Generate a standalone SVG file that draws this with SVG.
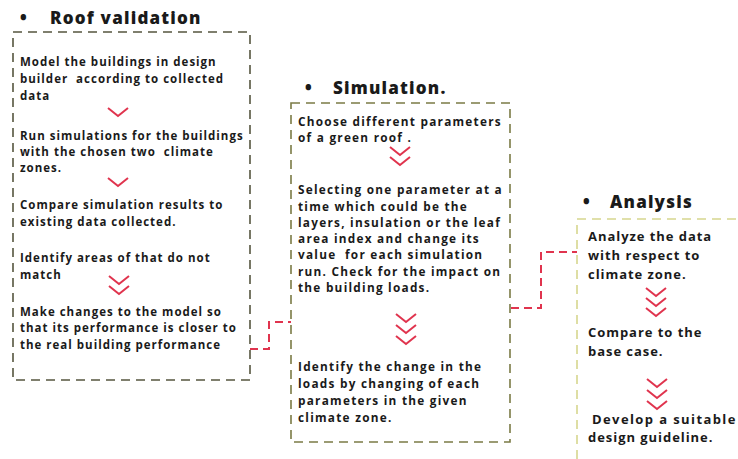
<svg xmlns="http://www.w3.org/2000/svg" width="738" height="459" viewBox="0 0 738 459">
<style>
  text { white-space: pre; }
  .t { font-family: "Open Sans", "Liberation Sans", sans-serif; font-weight: 700; font-size: 11.5px; letter-spacing: 1px; fill: #1a1a1a; }
  .t2 { font-family: "Open Sans", "Liberation Sans", sans-serif; font-weight: 700; font-size: 11.8px; letter-spacing: 1.25px; fill: #1a1a1a; }
  .t3 { font-family: "Open Sans", "Liberation Sans", sans-serif; font-weight: 700; font-size: 13px; letter-spacing: 0.95px; fill: #1a1a1a; }
  .title { font-family: "Open Sans", "Liberation Sans", sans-serif; font-weight: 800; font-size: 17px; letter-spacing: 1.2px; fill: #1a1a1a; }
  .box { fill: none; stroke-width: 1.6; stroke-dasharray: 9 6; }
  .conn { fill: none; stroke: #e0344e; stroke-width: 2; stroke-dasharray: 8 5; }
  .chev { fill: none; stroke: #e0344e; stroke-width: 2; }
</style>
<defs>
  <path id="chev" class="chev" d="M-10,-4 L0,4 L10,-4"/>
</defs>
<rect width="738" height="459" fill="#ffffff"/>

<g id="roof-validation">
  <text class="title" x="20" y="24">•</text>
  <text class="title" x="50" y="24">Roof validation</text>
  <rect class="box" x="13" y="32" width="237" height="348" stroke="#55553f"/>
  <text class="t" x="20" y="66">Model the buildings in design</text>
  <text class="t" x="20" y="83">builder  according to collected</text>
  <text class="t" x="20" y="100">data</text>
  <use href="#chev" x="118" y="112"/>
  <text class="t" x="20" y="140">Run simulations for the buildings</text>
  <text class="t" x="20" y="156">with the chosen two  climate</text>
  <text class="t" x="20" y="172">zones.</text>
  <use href="#chev" x="118" y="182"/>
  <text class="t" x="20" y="209">Compare simulation results to</text>
  <text class="t" x="20" y="226">existing data collected.</text>
  <text class="t" x="20" y="262">Identify areas of that do not</text>
  <text class="t" x="20" y="279">match</text>
  <use href="#chev" x="119" y="280"/>
  <use href="#chev" x="119" y="290"/>
  <text class="t" x="20" y="316">Make changes to the model so</text>
  <text class="t" x="20" y="332">that its performance is closer to</text>
  <text class="t" x="20" y="349">the real building performance</text>
</g>

<g id="simulation">
  <text class="title" x="305" y="94">•</text>
  <text class="title" x="333" y="94">Simulation.</text>
  <rect class="box" x="291" y="103" width="219" height="339" stroke="#7b7b45" fill="#fffffa"/>
  <text class="t2" x="298" y="126">Choose different parameters</text>
  <text class="t2" x="298" y="142">of a green roof .</text>
  <use href="#chev" x="400" y="151"/>
  <use href="#chev" x="400" y="161"/>
  <text class="t2" x="298" y="194">Selecting one parameter at a</text>
  <text class="t2" x="298" y="211">time which could be the</text>
  <text class="t2" x="298" y="227">layers, insulation or the leaf</text>
  <text class="t2" x="298" y="243">area index and change its</text>
  <text class="t2" x="298" y="259">value  for each simulation</text>
  <text class="t2" x="298" y="276">run. Check for the impact on</text>
  <text class="t2" x="298" y="292">the building loads.</text>
  <use href="#chev" x="406" y="318"/>
  <use href="#chev" x="406" y="329"/>
  <use href="#chev" x="406" y="340"/>
  <text class="t2" x="298" y="371">Identify the change in the</text>
  <text class="t2" x="298" y="388">loads by changing of each</text>
  <text class="t2" x="298" y="405">parameters in the given</text>
  <text class="t2" x="298" y="422">climate zone.</text>
</g>

<g id="analysis">
  <text class="title" x="583" y="208">•</text>
  <text class="title" x="610" y="208">Analysis</text>
  <rect class="box" x="577" y="219" width="170" height="250" stroke="#d6d68e" fill="#fefef4"/>
  <text class="t3" x="588" y="241">Analyze the data</text>
  <text class="t3" x="588" y="260">with respect to</text>
  <text class="t3" x="588" y="279">climate zone.</text>
  <use href="#chev" x="656" y="292"/>
  <use href="#chev" x="656" y="302"/>
  <use href="#chev" x="656" y="312"/>
  <text class="t3" x="588" y="337">Compare to the</text>
  <text class="t3" x="588" y="356">base case.</text>
  <use href="#chev" x="657" y="383"/>
  <use href="#chev" x="657" y="394"/>
  <use href="#chev" x="657" y="405"/>
  <text class="t3" x="592" y="424" style="letter-spacing:1.4px">Develop a suitable</text>
  <text class="t3" x="588" y="442">design guideline.</text>
</g>

<g id="connectors">
  <path class="conn" d="M250,349 H269 V322 H291"/>
  <path class="conn" d="M511,308 H541 V252 H577"/>
</g>
</svg>
